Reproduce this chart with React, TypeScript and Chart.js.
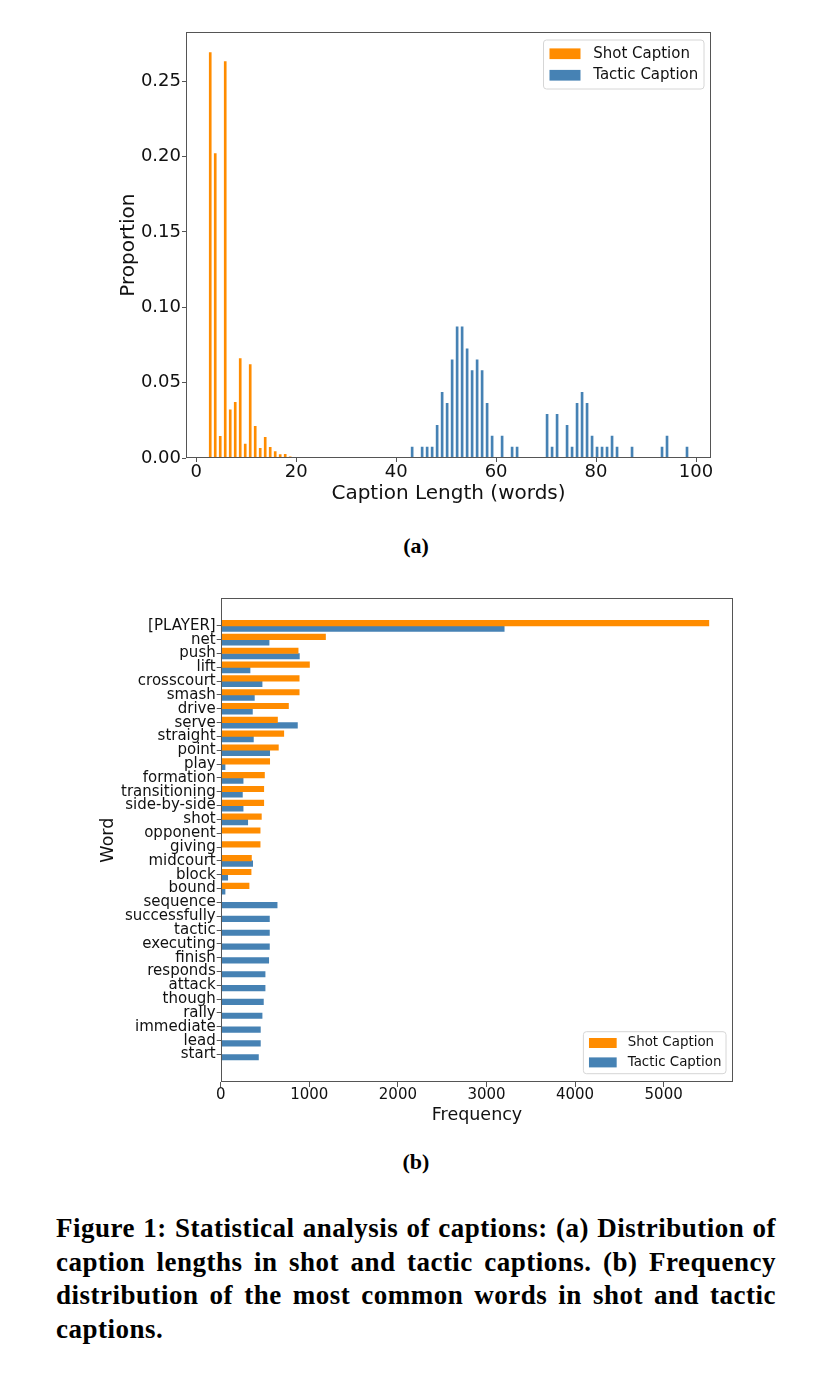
import React, { useEffect, useRef } from 'react';
import { Chart, registerables } from 'chart.js';

Chart.register(...registerables);

// ---------- Data: chart (a) caption length distribution ----------
const shotLengths = [3, 4, 5, 6, 7, 8, 9, 10, 11, 12, 13, 14, 15, 16, 17, 18, 19, 22];
const shotProportion = [0.269, 0.202, 0.0143, 0.263, 0.032, 0.037, 0.066, 0.0093, 0.062, 0.021, 0.0064, 0.0137, 0.007, 0.0042, 0.0022, 0.0024, 0.0008, 0.0004];

const tacticLengths = [43, 45, 46, 47, 48, 49, 50, 51, 52, 53, 54, 55, 56, 57, 58, 59, 61, 63, 64, 70, 71, 72, 74, 75, 76, 77, 78, 79, 80, 81, 82, 83, 84, 87, 93, 94, 98];
const tacticProportion = [0.00725, 0.00725, 0.00725, 0.00725, 0.0217, 0.0435, 0.0362, 0.0652, 0.087, 0.087, 0.0725, 0.058, 0.0652, 0.058, 0.0362, 0.0145, 0.0145, 0.00725, 0.00725, 0.029, 0.00725, 0.029, 0.0217, 0.00725, 0.0362, 0.0435, 0.0362, 0.0145, 0.00725, 0.00725, 0.00725, 0.0145, 0.00725, 0.00725, 0.00725, 0.0145, 0.00725];

const lengthTicks = [0, 20, 40, 60, 80, 100];
const proportionTicks = [0, 0.05, 0.1, 0.15, 0.2, 0.25];

// ---------- Data: chart (b) word frequency ----------
const words = ['[PLAYER]', 'net', 'push', 'lift', 'crosscourt', 'smash', 'drive', 'serve', 'straight', 'point', 'play', 'formation', 'transitioning', 'side-by-side', 'shot', 'opponent', 'giving', 'midcourt', 'block', 'bound', 'sequence', 'successfully', 'tactic', 'executing', 'finish', 'responds', 'attack', 'though', 'rally', 'immediate', 'lead', 'start'];
const shotFreq = [5510, 1183, 874, 1002, 886, 886, 765, 641, 712, 651, 553, 494, 486, 486, 459, 445, 445, 347, 343, 320, null, null, null, null, null, null, null, null, null, null, null, null];
const tacticFreq = [3200, 546, 888, 331, 467, 380, 358, 866, 369, 553, 49, 253, 245, 253, 305, null, null, 361, 79, 49, 637, 550, 550, 550, 542, 501, 501, 482, 467, 448, 448, 426];
const freqTicks = [0, 1000, 2000, 3000, 4000, 5000];

// ---------- Styles ----------
const ORANGE = '#FF8C00';
const BLUE = '#4682B4';
const FONT = "'DejaVu Sans', sans-serif";
const AXIS_COLOR = '#555555';
const TEXT_COLOR = '#111111';
const SERIF = "'Liberation Serif', 'DejaVu Serif', serif";

const framePlugin = {
  id: 'frame',
  afterDatasetsDraw(chart: any) {
    const { ctx, chartArea: a } = chart;
    ctx.save();
    ctx.strokeStyle = AXIS_COLOR;
    ctx.lineWidth = 1;
    const l = Math.round(a.left) + 0.5;
    const t = Math.round(a.top) + 0.5;
    const r = Math.round(a.right) - 0.5;
    const b = Math.round(a.bottom) - 0.5;
    ctx.strokeRect(l, t, r - l, b - t);
    ctx.restore();
  },
};

const mplLegend = {
  id: 'mplLegend',
  afterDraw(chart: any, _args: any, opts: any) {
    const { ctx, chartArea: a } = chart;
    const { corner, insetX, insetY, fontSize, patchW, patchH, padX, padRight, gap, rowH, padY } = opts;
    ctx.save();
    ctx.font = `${fontSize}px ${FONT}`;
    const items = chart.data.datasets.map((d: any) => ({ label: d.label, color: d.backgroundColor }));
    const tw = Math.max(...items.map((i: any) => ctx.measureText(i.label).width));
    const w = padX + patchW + gap + tw + padRight;
    const h = padY * 2 + rowH * items.length;
    const x = a.right - insetX - w;
    const y = corner === 'top' ? a.top + insetY : a.bottom - insetY - h;
    const rad = 3;
    ctx.beginPath();
    ctx.moveTo(x + rad, y);
    ctx.lineTo(x + w - rad, y);
    ctx.quadraticCurveTo(x + w, y, x + w, y + rad);
    ctx.lineTo(x + w, y + h - rad);
    ctx.quadraticCurveTo(x + w, y + h, x + w - rad, y + h);
    ctx.lineTo(x + rad, y + h);
    ctx.quadraticCurveTo(x, y + h, x, y + h - rad);
    ctx.lineTo(x, y + rad);
    ctx.quadraticCurveTo(x, y, x + rad, y);
    ctx.closePath();
    ctx.fillStyle = 'rgba(255,255,255,0.85)';
    ctx.fill();
    ctx.strokeStyle = '#d6d6d6';
    ctx.lineWidth = 1;
    ctx.stroke();
    items.forEach((it: any, i: number) => {
      const cy = y + padY + rowH * (i + 0.5);
      ctx.fillStyle = it.color;
      ctx.fillRect(x + padX, cy - patchH / 2, patchW, patchH);
      ctx.fillStyle = TEXT_COLOR;
      ctx.textBaseline = 'middle';
      ctx.textAlign = 'left';
      ctx.fillText(it.label, x + padX + patchW + gap, cy);
    });
    ctx.restore();
  },
};

const gridOpts = (tickLength: number) => ({
  display: true,
  drawOnChartArea: false,
  drawTicks: true,
  tickLength,
  color: AXIS_COLOR,
  lineWidth: 1,
  offset: false,
});

function buildLengthChart(canvas: HTMLCanvasElement) {
  return new Chart(canvas, {
    type: 'bar',
    data: {
      datasets: [
        {
          label: 'Shot Caption',
          data: shotLengths.map((x, i) => ({ x, y: shotProportion[i] })),
          backgroundColor: ORANGE,
          borderWidth: 0,
          barThickness: 2,
        },
        {
          label: 'Tactic Caption',
          data: tacticLengths.map((x, i) => ({ x, y: tacticProportion[i] })),
          backgroundColor: BLUE,
          borderWidth: 0,
          barThickness: 2,
        },
      ],
    } as any,
    options: {
      animation: false,
      responsive: true,
      maintainAspectRatio: false,
      layout: { padding: { top: 12.3, right: 21, left: 0, bottom: 0 } },
      plugins: {
        legend: { display: false },
        tooltip: { enabled: false },
        mplLegend: {
          corner: 'top', insetX: 7, insetY: 7.7, fontSize: 15, patchW: 31, patchH: 10.7,
          padX: 6, padRight: 5.7, gap: 12.7, rowH: 21.5, padY: 3,
        },
      } as any,
      scales: {
        x: {
          type: 'linear',
          min: -2.05,
          max: 103,
          offset: false,
          afterBuildTicks: (s: any) => { s.ticks = lengthTicks.map((v) => ({ value: v })); },
          afterFit: (s: any) => { s.height = 50; },
          grid: gridOpts(4),
          border: { display: false },
          ticks: { font: { family: FONT, size: 18, lineHeight: 1 }, color: TEXT_COLOR, padding: 1, maxRotation: 0, autoSkip: false, callback: (v: any) => String(v) },
          title: { display: true, text: 'Caption Length (words)', font: { family: FONT, size: 20, lineHeight: 1.2 }, color: TEXT_COLOR, padding: { top: 0, bottom: 2 } },
        },
        y: {
          type: 'linear',
          min: 0,
          max: 0.2825,
          afterBuildTicks: (s: any) => { s.ticks = proportionTicks.map((v) => ({ value: v })); },
          afterFit: (s: any) => { s.width = 86; },
          grid: gridOpts(4),
          border: { display: false },
          ticks: { font: { family: FONT, size: 18, lineHeight: 1 }, color: TEXT_COLOR, padding: 1, autoSkip: false, callback: (v: any) => Number(v).toFixed(2) },
          title: { display: true, text: 'Proportion', font: { family: FONT, size: 20, lineHeight: 1.2 }, color: TEXT_COLOR, padding: { top: 17, bottom: 0 } },
        },
      },
    } as any,
    plugins: [framePlugin, mplLegend] as any,
  });
}

function buildWordChart(canvas: HTMLCanvasElement) {
  return new Chart(canvas, {
    type: 'bar',
    data: {
      datasets: [
        {
          label: 'Shot Caption',
          data: words.map((_, i) => ({ y: i, x: shotFreq[i] })),
          backgroundColor: ORANGE,
          borderWidth: 0,
          barThickness: 5.5,
        },
        {
          label: 'Tactic Caption',
          data: words.map((_, i) => ({ y: i, x: tacticFreq[i] })),
          backgroundColor: BLUE,
          borderWidth: 0,
          barThickness: 5.5,
        },
      ],
    } as any,
    options: {
      indexAxis: 'y',
      animation: false,
      responsive: true,
      maintainAspectRatio: false,
      layout: { padding: { top: 18.3, right: 11.7, left: 0, bottom: 0 } },
      plugins: {
        legend: { display: false },
        tooltip: { enabled: false },
        mplLegend: {
          corner: 'bottom', insetX: 7.3, insetY: 8.3, fontSize: 13.4, patchW: 27.7, patchH: 10,
          padX: 5.6, padRight: 4.5, gap: 11, rowH: 19.4, padY: 1.6,
        },
      } as any,
      scales: {
        x: {
          type: 'linear',
          min: 0,
          max: 5786,
          afterBuildTicks: (s: any) => { s.ticks = freqTicks.map((v) => ({ value: v })); },
          afterFit: (s: any) => { s.height = 50; },
          grid: gridOpts(5),
          border: { display: false },
          ticks: { font: { family: FONT, size: 15, lineHeight: 1 }, color: TEXT_COLOR, padding: 1, maxRotation: 0, autoSkip: false, callback: (v: any) => String(v) },
          title: { display: true, text: 'Frequency', font: { family: FONT, size: 17.5, lineHeight: 1.2 }, color: TEXT_COLOR, padding: { top: 0, bottom: 6.5 } },
        },
        y: {
          type: 'linear',
          reverse: true,
          min: -1.99,
          max: 32.99,
          offset: false,
          afterBuildTicks: (s: any) => { s.ticks = words.map((_, i) => ({ value: i })); },
          afterFit: (s: any) => { s.width = 130.7; },
          grid: gridOpts(4),
          border: { display: false },
          ticks: {
            font: { family: FONT, size: 15, lineHeight: 1 }, color: TEXT_COLOR, padding: 1, autoSkip: false,
            callback: (v: any) => words[Math.round(Number(v))] ?? '',
          },
          title: { display: true, text: 'Word', font: { family: FONT, size: 17.5, lineHeight: 1.2 }, color: TEXT_COLOR, padding: { top: 7.5, bottom: 0 } },
        },
      },
    } as any,
    plugins: [framePlugin, mplLegend] as any,
  });
}

const captionLines = [
  'Figure 1: Statistical analysis of captions: (a) Distribution of',
  'caption lengths in shot and tactic captions. (b) Frequency',
  'distribution of the most common words in shot and tactic',
  'captions.',
];

export default function App() {
  const refA = useRef<HTMLCanvasElement>(null);
  const refB = useRef<HTMLCanvasElement>(null);

  useEffect(() => {
    const a = refA.current ? buildLengthChart(refA.current) : null;
    const b = refB.current ? buildWordChart(refB.current) : null;
    return () => {
      a?.destroy();
      b?.destroy();
    };
  }, []);

  return (
    <div style={{ position: 'absolute', left: 0, top: 0, width: 832, height: 1374, background: '#fff', overflow: 'hidden' }}>
      <div style={{ position: 'absolute', left: 100, top: 20, width: 632, height: 488 }}>
        <canvas ref={refA} />
      </div>
      <div style={{ position: 'absolute', left: 0, top: 533, width: 832, height: 26, lineHeight: '26px', textAlign: 'center', fontFamily: SERIF, fontWeight: 'bold', fontSize: 22, color: '#000' }}>
        (a)
      </div>
      <div style={{ position: 'absolute', left: 90, top: 580, width: 655, height: 552 }}>
        <canvas ref={refB} />
      </div>
      <div style={{ position: 'absolute', left: 0, top: 1149, width: 832, height: 26, lineHeight: '26px', textAlign: 'center', fontFamily: SERIF, fontWeight: 'bold', fontSize: 22, color: '#000' }}>
        (b)
      </div>
      <div style={{ position: 'absolute', left: 56, top: 1212, width: 720, fontFamily: SERIF, fontWeight: 'bold', fontSize: 27, letterSpacing: 0.5, color: '#000' }}>
        {captionLines.map((line, i) => (
          <div
            key={i}
            style={{
              height: 33.7,
              lineHeight: '33.7px',
              textAlign: 'justify',
              textAlignLast: i === captionLines.length - 1 ? 'left' : 'justify',
            } as any}
          >
            {line}
          </div>
        ))}
      </div>
    </div>
  );
}
